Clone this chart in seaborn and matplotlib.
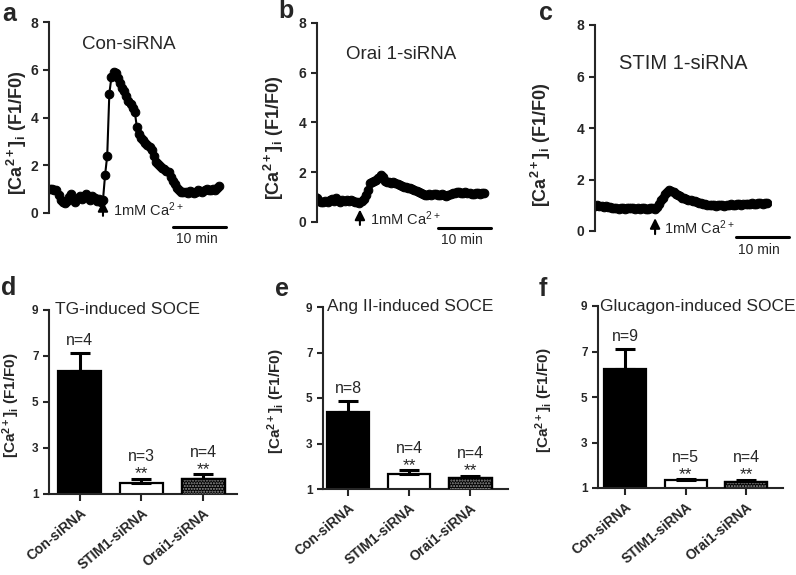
import numpy as np
import seaborn as sns
import matplotlib.pyplot as plt
from matplotlib.patches import Rectangle

# Ca2+ traces, one reading every 0.4 min
sample_min = 0.4
trace_con = [1.00, 1.00, 0.98, 0.95, 0.75, 0.55, 0.45, 0.42, 0.50, 0.65,
             0.78, 0.60, 0.45, 0.62, 0.72, 0.60, 0.70, 0.78, 0.65, 0.55,
             0.70, 0.62, 0.50, 0.58, 0.48, 0.55, 1.60, 2.40, 5.00, 5.70,
             5.90, 5.85, 5.65, 5.45, 5.25, 5.10, 4.90, 4.70, 4.55, 4.40,
             4.25, 3.60, 3.30, 3.15, 3.05, 2.95, 2.85, 2.75, 2.65, 2.40,
             2.15, 2.05, 1.95, 1.90, 1.85, 1.75, 1.70, 1.50, 1.35, 1.20,
             1.05, 0.95, 0.90, 0.88, 0.90, 0.85, 0.92, 0.88, 0.85, 0.90,
             0.95, 0.92, 0.88, 0.95, 1.00, 0.95, 0.98, 1.00, 0.95, 1.05,
             1.12]
trace_orai = [1.00, 0.95, 0.85, 0.80, 0.82, 0.85, 0.80, 0.88, 0.92, 0.85,
              0.95, 0.88, 0.82, 0.90, 0.85, 0.88, 0.84, 0.90, 0.86, 0.80,
              0.82, 0.78, 0.85, 0.92, 1.10, 1.30, 1.55, 1.62, 1.65, 1.70,
              1.75, 1.88, 1.80, 1.65, 1.62, 1.60, 1.58, 1.60, 1.55, 1.52,
              1.48, 1.45, 1.42, 1.40, 1.38, 1.35, 1.32, 1.30, 1.25, 1.20,
              1.18, 1.12, 1.08, 1.10, 1.12, 1.10, 1.14, 1.12, 1.10, 1.08,
              1.12, 1.10, 1.06, 1.10, 1.12, 1.15, 1.18, 1.22, 1.20, 1.18,
              1.15, 1.20, 1.16, 1.18, 1.14, 1.12, 1.15, 1.18, 1.12, 1.15,
              1.18]
trace_stim = [1.00, 1.02, 0.98, 1.00, 0.96, 0.98, 0.95, 0.97, 0.94, 0.92,
              0.90, 0.88, 0.90, 0.86, 0.88, 0.90, 0.87, 0.89, 0.91, 0.88,
              0.90, 0.87, 0.89, 0.86, 0.88, 0.90, 0.87, 0.86, 0.88, 0.90,
              0.87, 0.92, 1.05, 1.20, 1.30, 1.42, 1.52, 1.58, 1.56, 1.50,
              1.44, 1.38, 1.34, 1.30, 1.28, 1.25, 1.22, 1.20, 1.18, 1.15,
              1.12, 1.10, 1.08, 1.05, 1.04, 1.02, 1.00, 1.02, 1.00, 0.98,
              1.00, 1.02, 1.00, 0.98, 1.00, 1.02, 1.04, 1.02, 1.00, 1.03,
              1.05, 1.02, 1.04, 1.06, 1.03, 1.05, 1.08, 1.06, 1.04, 1.08,
              1.10, 1.06, 1.08, 1.10]

# SOCE summary (mean, SEM, n)
groups = ["Con-siRNA", "STIM1-siRNA", "Orai1-siRNA"]
tg_mean = [6.35, 1.49, 1.64]
tg_sem = [0.77, 0.18, 0.23]
tg_n = [4, 3, 4]
ang_mean = [4.37, 1.68, 1.50]
ang_sem = [0.51, 0.14, 0.09]
ang_n = [8, 4, 4]
glu_mean = [6.23, 1.34, 1.28]
glu_sem = [0.86, 0.06, 0.09]
glu_n = [9, 5, 4]

sns.set_style("ticks")
plt.rcParams["font.family"] = ["Liberation Sans", "DejaVu Sans"]
plt.rcParams["mathtext.fontset"] = "custom"
plt.rcParams["mathtext.rm"] = "Liberation Sans"
plt.rcParams["mathtext.bf"] = "Liberation Sans:bold"
plt.rcParams["mathtext.default"] = "regular"
plt.rcParams["hatch.linewidth"] = 1.0

ylab = "[Ca$^{2+}$]$_i$ (F1/F0)"
fig = plt.figure(figsize=(7.96, 5.75), dpi=100)
W, H = 796, 575


def px_axes(left, top, right, bottom):
    return fig.add_axes([left / W, 1 - bottom / H, (right - left) / W, (bottom - top) / H])


# ---- top row: traces ----
top_panels = [
    # letter, title, trace, axes box px, xlim left, title pos, arrow x, label x, scale bar, ylabel x, title size
    ("a", "Con-siRNA", trace_con, (49, 22, 230, 213), -0.2, (0.44, 0.88), 10.0, 11.9, (23.2, 27.7), -0.11, 13.5),
    ("b", "Orai 1-siRNA", trace_orai, (317, 23, 495, 222), 0.4, (0.47, 0.84), 8.5, 10.4, (23.2, 27.7), -0.174, 13.5),
    ("c", "STIM 1-siRNA", trace_stim, (595, 25, 771, 231), 0.75, (0.50, 0.815), 12.1, 13.8, (27.4, 31.7), -0.239, 14.5),
]
letter_pos = {"a": (2, 21), "b": (278, 18), "c": (539, 20), "d": (1, 295), "e": (275, 296), "f": (539, 296)}

for letter, title, trace, box, x0, tpos, arrow_x, lab_x, (bar_x, txt_x), ylx, tsize in top_panels:
    ax = px_axes(*box)
    t = np.arange(len(trace)) * sample_min
    sns.lineplot(x=t, y=trace, ax=ax, color="black", marker="o", markersize=6.2,
                 markeredgecolor="black", linewidth=1.5)
    ax.set_xlim(x0, 34)
    ax.set_ylim(0, 8)
    ax.set_yticks([0, 2, 4, 6, 8])
    ax.tick_params(axis="y", labelsize=10, width=1.5, length=4)
    for lab in ax.get_yticklabels():
        lab.set_fontweight("bold")
    ax.tick_params(axis="x", bottom=False, labelbottom=False)
    sns.despine(ax=ax, bottom=True)
    ax.spines["left"].set_linewidth(1.5)
    ax.set_ylabel(ylab, fontsize=13, fontweight="bold")
    ax.yaxis.set_label_coords(ylx, 0.42)
    ax.text(tpos[0], tpos[1], title, transform=ax.transAxes, ha="center", va="center", fontsize=tsize)
    ax.annotate("", xy=(arrow_x, 0.5), xytext=(arrow_x, -0.12),
                arrowprops=dict(arrowstyle="-|>", color="black", lw=1.5, mutation_scale=15,
                                shrinkA=0, shrinkB=0),
                annotation_clip=False)
    ax.text(lab_x, 0.12, "1mM Ca$^{2+}$", ha="left", va="center", fontsize=10.5)
    sb_y = -0.58 if letter == "a" else -0.24
    ax.plot([bar_x, bar_x + 10], [sb_y, sb_y], color="black", lw=2.2, clip_on=False)
    ax.text(txt_x, sb_y - 0.5, "10 min", ha="center", va="center", fontsize=10)

# ---- bottom row: bars ----
bottom_panels = [
    ("d", "TG-induced SOCE", tg_mean, tg_sem, tg_n, (49, 310, 237, 494), (-0.50, 2.55), -0.144, 0.03),
    ("e", "Ang II-induced SOCE", ang_mean, ang_sem, ang_n, (323, 307, 508, 489), (-0.41, 2.62), -0.195, 0.02),
    ("f", "Glucagon-induced SOCE", glu_mean, glu_sem, glu_n, (598, 306, 783, 488), (-0.45, 2.61), -0.232, 0.01),
]
colors = {"Con-siRNA": "black", "STIM1-siRNA": "white", "Orai1-siRNA": "black"}

for letter, title, mean, sem, n, box, xl, ylx, tx in bottom_panels:
    ax = px_axes(*box)
    sns.barplot(x=groups, y=mean, hue=groups, palette=colors, legend=False, ax=ax,
                width=0.7, edgecolor="black", linewidth=1.6, errorbar=None)
    bars = ax.patches[:3]
    centers = [p.get_x() + p.get_width() / 2 for p in bars]
    # dotted fill for Orai1
    p = bars[2]
    ax.add_patch(Rectangle((p.get_x(), p.get_y()), p.get_width(), p.get_height(),
                           fill=False, hatch="......", edgecolor="#999999", lw=0, zorder=3))
    ax.add_patch(Rectangle((p.get_x(), p.get_y()), p.get_width(), p.get_height(),
                           fill=False, edgecolor="black", lw=1.6, zorder=4))
    ax.errorbar(centers, mean, yerr=[np.zeros(3), sem], fmt="none", ecolor="black",
                elinewidth=2.2, capsize=7.5, capthick=2.2, zorder=1)
    for i, (c, m, s, k) in enumerate(zip(centers, mean, sem, n)):
        top = m + s
        if i == 0:
            ax.text(c, top + 0.36, f"n={k}", ha="center", va="baseline", fontsize=11.5)
        else:
            ax.text(c, top + 0.0, "**", ha="center", va="baseline", fontsize=12.5)
            ax.text(c, top + 0.76, f"n={k}", ha="center", va="baseline", fontsize=11.5)
    ax.set_xlim(*xl)
    ax.set_ylim(1, 9)
    ax.set_yticks([1, 3, 5, 7, 9])
    ax.tick_params(axis="y", labelsize=8.5, width=1.5, length=4)
    ax.tick_params(axis="x", width=1.5, length=5)
    for lab in ax.get_yticklabels():
        lab.set_fontweight("bold")
    ax.set_xticks(range(3))
    ax.set_xticklabels(groups, rotation=40, ha="right", rotation_mode="anchor",
                       fontsize=10, fontweight="bold")
    sns.despine(ax=ax)
    ax.spines["left"].set_linewidth(1.5)
    ax.spines["bottom"].set_linewidth(1.5)
    ax.set_ylabel(ylab, fontsize=11, fontweight="bold")
    ax.yaxis.set_label_coords(ylx, 0.48)
    ax.text(tx, 9, title, transform=ax.get_yaxis_transform(), ha="left", va="center", fontsize=12.5)

for letter, (lx, ly) in letter_pos.items():
    fig.text(lx / W, 1 - ly / H, letter, fontsize=18, fontweight="bold", ha="left", va="baseline")

fig.savefig("out.png", dpi=100)
